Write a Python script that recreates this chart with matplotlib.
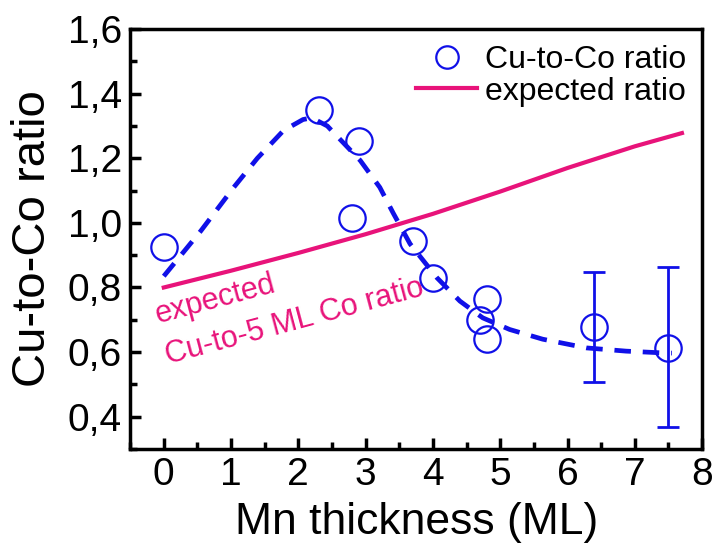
import numpy as np
import matplotlib.pyplot as plt
from matplotlib.ticker import MultipleLocator

plt.rcParams['font.family'] = ['Liberation Sans', 'DejaVu Sans']

# measured Cu-to-Co ratio
mn = [0.0, 2.3, 2.9, 2.8, 3.7, 4.0, 4.8, 4.7, 4.8, 6.4, 7.5]
ratio = [0.925, 1.35, 1.255, 1.015, 0.945, 0.83, 0.765, 0.70, 0.64, 0.678, 0.612]
# error bars exist only for the two thickest films
err_x = [6.4, 7.5]
err_y = [0.678, 0.612]
err_lo = [0.171, 0.245]
err_hi = [0.170, 0.250]

# guide-to-the-eye dashed curve
guide_x = [0.0, 0.55, 1.04, 1.39, 1.78, 2.07, 2.2, 2.43, 2.92, 3.21, 3.41, 3.66,
           4.06, 4.4, 4.74, 5.14, 5.63, 6.28, 6.87, 7.47, 7.55]
guide_y = [0.835, 0.975, 1.11, 1.20, 1.286, 1.32, 1.325, 1.30, 1.193, 1.11, 1.03, 0.935,
           0.83, 0.758, 0.706, 0.67, 0.64, 0.613, 0.603, 0.597, 0.597]

# expected ratio curve
exp_x = [0, 1, 2, 3, 4, 5, 6, 7, 7.7]
exp_y = [0.80, 0.852, 0.907, 0.965, 1.028, 1.097, 1.17, 1.237, 1.278]

yticks = [0.4, 0.6, 0.8, 1.0, 1.2, 1.4, 1.6]
ytick_labels = ['0,4', '0,6', '0,8', '1,0', '1,2', '1,4', '1,6']
xticks = [0, 1, 2, 3, 4, 5, 6, 7, 8]

blue = '#1010e8'
pink = '#e8137a'

fig = plt.figure(figsize=(7.15, 5.44), dpi=100)
ax = fig.add_axes([0.182, 0.1746, 0.8, 0.772])

ax.plot(guide_x, guide_y, color=blue, lw=3.4, ls=(0, (3.5, 2.5)), zorder=2)
ax.plot(exp_x, exp_y, color=pink, lw=3, label='expected ratio', zorder=2)
ax.errorbar(err_x, err_y, yerr=[err_lo, err_hi], fmt='none', ecolor=blue,
            elinewidth=2, capsize=8, capthick=2, zorder=3)
ax.plot(mn, ratio, 'o', ms=19, mfc='none', mec=blue, mew=1.6,
        label='Cu-to-Co ratio', zorder=4)

ax.text(-0.09, 0.69, 'expected', color=pink, fontsize=22, rotation=15,
        rotation_mode='anchor', ha='left', va='baseline')
ax.text(0.06, 0.563, 'Cu-to-5 ML Co ratio', color=pink, fontsize=22, rotation=15,
        rotation_mode='anchor', ha='left', va='baseline')

ax.set_xlim(-0.5, 8)
ax.set_ylim(0.3, 1.6)
ax.set_xticks(xticks)
ax.set_yticks(yticks)
ax.set_yticklabels(ytick_labels)
ax.xaxis.set_minor_locator(MultipleLocator(0.5))
ax.yaxis.set_minor_locator(MultipleLocator(0.1))
ax.tick_params(which='both', direction='in', width=2.5, labelsize=28)
ax.tick_params(which='major', length=8, pad=6)
ax.tick_params(which='minor', length=5)
for s in ax.spines.values():
    s.set_linewidth(2.5)

ax.set_xlabel('Mn thickness (ML)', fontsize=32, labelpad=6)
ax.set_ylabel('Cu-to-Co ratio', fontsize=34, labelpad=9)

h, l = ax.get_legend_handles_labels()
leg = ax.legend(h[::-1], l[::-1], loc='upper right', frameon=False, fontsize=23,
                handlelength=1.9, handletextpad=0.25, borderaxespad=0.1, labelspacing=0.05,
                markerscale=0.85)

fig.savefig('out.png', dpi=100)
